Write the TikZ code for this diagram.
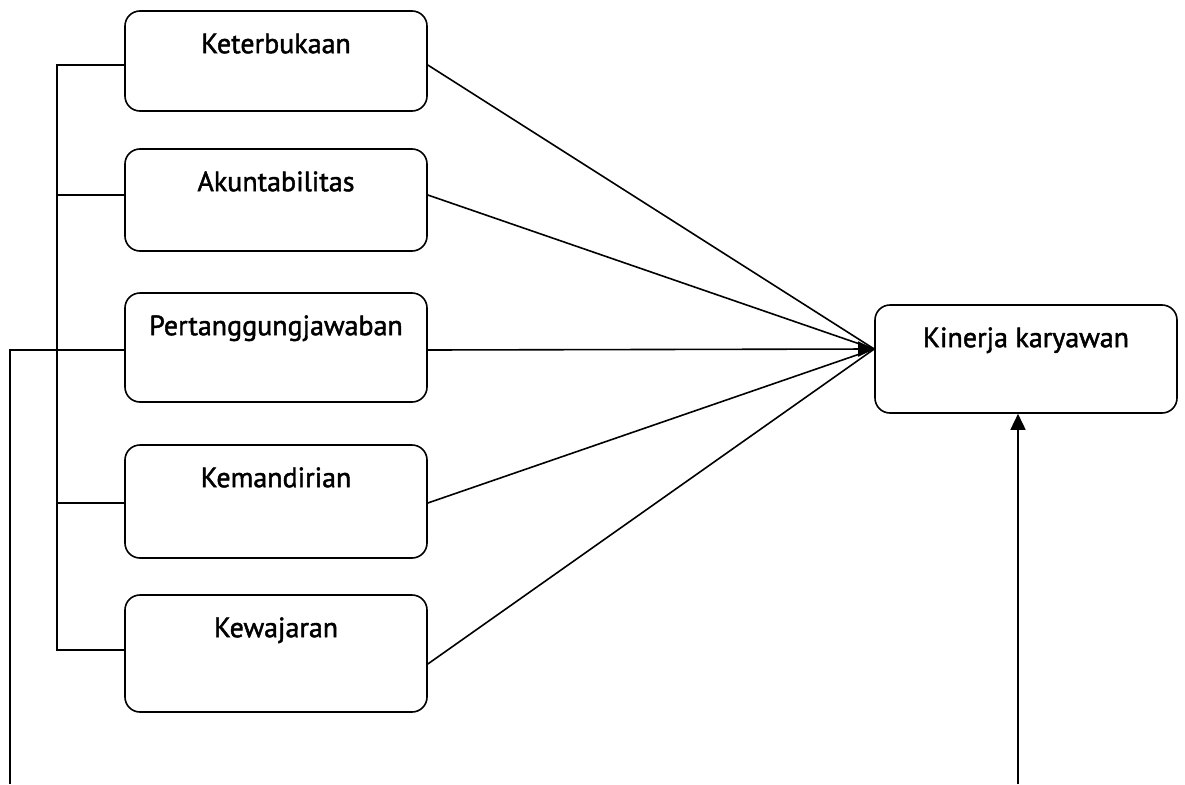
\documentclass[tikz,border=0pt]{standalone}
\usepackage{fontspec}
\setmainfont{PT Sans}
\newfontfamily\lblfont[FakeBold=1.6]{PT Sans}
\usetikzlibrary{arrows.meta}
\begin{document}
\begin{tikzpicture}[x=1pt,y=-1pt,
  box/.style={draw, rounded corners=15pt, minimum width=302pt, line width=1.6pt, inner sep=0pt},
  lbl/.style={anchor=base, yshift=-43pt, font=\lblfont\fontsize{28}{32}\selectfont},
  conn/.style={line width=1.6pt},
  tipend/.style={-{Triangle[length=16pt,width=15pt]}}]
\useasboundingbox (0,0) rectangle (1185,784);
\node[box, minimum height=100pt, label={[lbl]north:Keterbukaan}] (k1) at (276,61) {};
\node[box, minimum height=102pt, label={[lbl]north:Akuntabilitas}] (k2) at (276,200) {};
\node[box, minimum height=109pt, label={[lbl]north:Pertanggungjawaban}] (k3) at (276,347.5) {};
\node[box, minimum height=113pt, label={[lbl]north:Kemandirian}] (k4) at (276,501.5) {};
\node[box, minimum height=117pt, label={[lbl]north:Kewajaran}] (k5) at (276,653.5) {};
\node[box, minimum height=108pt, label={[lbl]north:Kinerja karyawan}] (kin) at (1026,359) {};
\coordinate (tip) at ([yshift=10pt]kin.west);
\coordinate (bt) at (57,65);
\coordinate (bb) at (57,650);
\coordinate (ll) at (10,784);
\coordinate (lr) at (1018,784);
% converging connectors
\draw[conn] ([yshift=-4pt]k1.east) -- (tip);
\draw[conn] ([yshift=5pt]k2.east) -- (tip);
\draw[conn] ([yshift=-1.5pt]k4.east) -- (tip);
\draw[conn] ([yshift=-10.5pt]k5.east) -- (tip);
\draw[conn, tipend] ([yshift=-2.5pt]k3.east) -- (tip);
% left bracket
\draw[conn] ([yshift=-4pt]k1.west) -- (bt) -- (bb) -- ([yshift=3.5pt]k5.west);
\draw[conn] ([yshift=5pt]k2.west) -- ([yshift=5pt]k2.west -| bt);
\draw[conn] ([yshift=-1.5pt]k4.west) -- ([yshift=-1.5pt]k4.west -| bt);
\draw[conn] ([yshift=-2.5pt]k3.west) -| (ll);
% bottom arrow
\draw[conn, tipend] (lr) -- (lr |- kin.south);
\end{tikzpicture}
\end{document}
